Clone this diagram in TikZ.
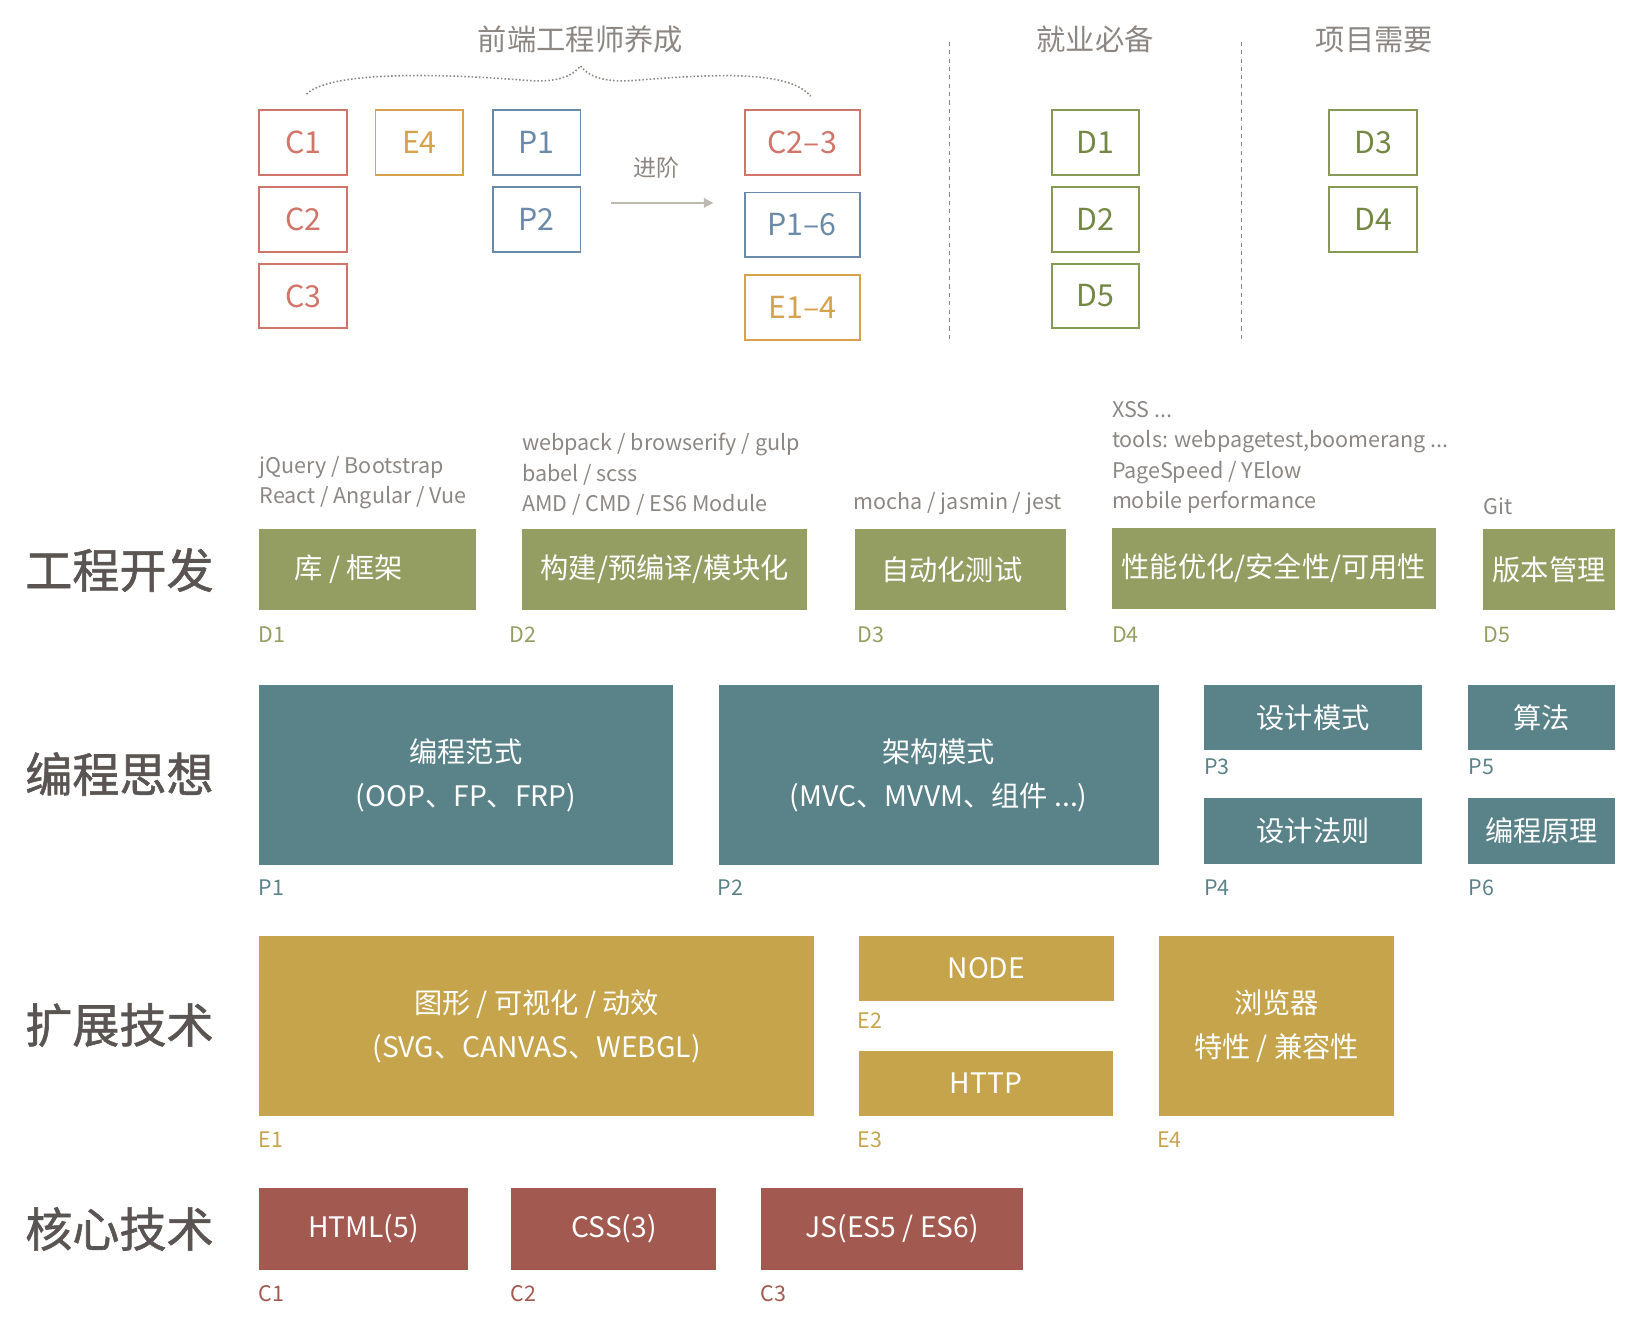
\documentclass[tikz,border=0pt]{standalone}
\usepackage{fontspec}
\setmainfont{Noto Sans CJK SC}
\newfontfamily\ttlfont[BoldFont={Noto Sans CJK SC},BoldFeatures={FakeBold=1.2}]{Noto Sans CJK SC}
\usetikzlibrary{arrows.meta}
\definecolor{grn}{HTML}{959E62}
\definecolor{teal}{HTML}{5A8389}
\definecolor{gold}{HTML}{C5A44C}
\definecolor{brick}{HTML}{A2594F}
\definecolor{cred}{HTML}{D0756A}
\definecolor{eorg}{HTML}{D6A24E}
\definecolor{pblu}{HTML}{6B89A8}
\definecolor{dgrn}{HTML}{879A58}
\definecolor{dtxt}{HTML}{738844}
\definecolor{gtxt}{HTML}{8C8782}
\definecolor{ttl}{HTML}{5A5552}
\definecolor{arr}{HTML}{BDB8B0}
\begin{document}
\begin{tikzpicture}[x=1pt,y=-1pt,
  fillbox/.style={fill=#1, draw=none, text=white, inner sep=0pt, align=center,
    font=\fontsize{27}{42}\selectfont},
  outbox/.style={draw=#1, line width=1.8pt, fill=white, inner sep=0pt,
    minimum width=84pt, minimum height=62pt, font=\fontsize{29}{30}\selectfont},
  rowtitle/.style={anchor=west, inner sep=0pt, text=ttl, font=\fontsize{45}{50}\ttlfont\bfseries},
  note/.style={anchor=west, inner sep=0pt, text=gtxt, align=left,
    font=\fontsize{20.6}{29}\selectfont},
  tag/.style={anchor=west, inner sep=0pt, text=#1, font=\fontsize{20.5}{24}\selectfont},
  head/.style={inner sep=0pt, text=gtxt, font=\fontsize{28}{30}\selectfont},
  sep/.style={draw=gtxt, line width=1.4pt, dash pattern=on 4pt off 4pt},
]
\useasboundingbox (0,0) rectangle (1568,1273);

% ---------- top section ----------
\node[head] (h1) at (555,38) {前端工程师养成};
\node[head] (h2) at (1047,38) {就业必备};
\node[head] (h3) at (1314,38) {项目需要};

\coordinate (bl) at (293,90);
\coordinate (bm) at (555,63);
\coordinate (br) at (775,92);
\draw[gtxt, line width=1.5pt, dotted] (bl) .. controls (315,68) and (420,70) .. (505,77)
  .. controls (535,79) and (548,72) .. (bm)
  .. controls (562,72) and (575,79) .. (605,77)
  .. controls (690,70) and (755,68) .. (br);

\coordinate (s1a) at (908,40); \coordinate (s1b) at (908,325);
\coordinate (s2a) at (1187,40); \coordinate (s2b) at (1187,325);
\draw[sep] (s1a) -- (s1b);
\draw[sep] (s2a) -- (s2b);

\node[outbox=cred, text=cred] (tC1) at (290,136) {C1};
\node[outbox=cred, text=cred] (tC2) at (290,210) {C2};
\node[outbox=cred, text=cred] (tC3) at (290,283) {C3};
\node[outbox=eorg, text=eorg] (tE4) at (401,136) {E4};
\node[outbox=pblu, text=pblu] (tP1) at (513,136) {P1};
\node[outbox=pblu, text=pblu] (tP2) at (513,210) {P2};
\node[outbox=cred, text=cred, minimum width=110pt] (tC23) at (767,136) {C2–3};
\node[outbox=pblu, text=pblu, minimum width=110pt] (tP16) at (767,215) {P1–6};
\node[outbox=eorg, text=eorg, minimum width=110pt] (tE14) at (767,294) {E1–4};
\node[outbox=dgrn, text=dtxt, minimum width=83pt] (tD1) at (1047.5,136) {D1};
\node[outbox=dgrn, text=dtxt, minimum width=83pt] (tD2) at (1047.5,210) {D2};
\node[outbox=dgrn, text=dtxt, minimum width=83pt] (tD5) at (1047.5,283) {D5};
\node[outbox=dgrn, text=dtxt] (tD3) at (1313,136) {D3};
\node[outbox=dgrn, text=dtxt] (tD4) at (1313,210) {D4};

\node[inner sep=0pt, text=gtxt, font=\fontsize{22}{24}\selectfont] (adv) at (628,160) {进阶};
\coordinate (a1) at (584,194);
\coordinate (a2) at (682,194);
\draw[arr, line width=1.5pt, -{Triangle[length=9pt,width=9pt]}] (a1) -- (a2);

% ---------- row titles ----------
\node[rowtitle] (r1) at (24,545) {工程开发};
\node[rowtitle] (r2) at (24,740) {编程思想};
\node[rowtitle] (r3) at (24,980) {扩展技术};
\node[rowtitle] (r4) at (24,1175) {核心技术};

% ---------- row 1 ----------
\node[fillbox=grn, minimum width=207pt, minimum height=77pt] (D1) at (351.5,544.5) {库 / 框架\hspace*{36pt}};
\node[fillbox=grn, minimum width=273pt, minimum height=77pt] (D2) at (635.5,544.5) {构建/预编译/模块化};
\node[fillbox=grn, minimum width=202pt, minimum height=77pt] (D3) at (918,544.5) {自动化测试\hspace*{16pt}};
\node[fillbox=grn, minimum width=310pt, minimum height=77pt] (D4) at (1218,543.5) {性能优化/安全性/可用性};
\node[fillbox=grn, minimum width=126pt, minimum height=77pt] (D5) at (1481,544.5) {版本管理};

\node[note] (n1) at (248,461.5) {jQuery / Bootstrap\\React / Angular / Vue};
\node[note] (n2) at (499,453.5) {webpack / browserify / gulp\\babel / scss\\AMD / CMD / ES6 Module};
\node[note] (n3) at (816,481) {mocha / jasmin / jest};
\node[note] (n4) at (1063,437.5) {XSS ...\\tools: webpagetest,boomerang ...\\PageSpeed / YElow\\mobile performance};
\node[note] (n5) at (1418,484) {Git};

\node[tag=grn] (lD1) at (247,607) {D1};
\node[tag=grn] (lD2) at (487,607) {D2};
\node[tag=grn] (lD3) at (820,607) {D3};
\node[tag=grn] (lD4) at (1063,607) {D4};
\node[tag=grn] (lD5) at (1418,607) {D5};

% ---------- row 2 ----------
\node[fillbox=teal, minimum width=395pt, minimum height=172pt] (P1) at (445.5,741) {编程范式\\(OOP、FP、FRP)};
\node[fillbox=teal, minimum width=421pt, minimum height=172pt] (P2) at (897.5,741) {架构模式\\(MVC、MVVM、组件 ...)};
\node[fillbox=teal, minimum width=209pt, minimum height=62pt] (P3) at (1255.5,686) {设计模式};
\node[fillbox=teal, minimum width=209pt, minimum height=63pt] (P4) at (1255.5,794.5) {设计法则};
\node[fillbox=teal, minimum width=140pt, minimum height=62pt] (P5) at (1474,686) {算法};
\node[fillbox=teal, minimum width=140pt, minimum height=63pt] (P6) at (1474,794.5) {编程原理};

\node[tag=teal] (lP1) at (247,849) {P1};
\node[tag=teal] (lP2) at (686,849) {P2};
\node[tag=teal] (lP3) at (1151,733) {P3};
\node[tag=teal] (lP4) at (1151,849) {P4};
\node[tag=teal] (lP5) at (1404,733) {P5};
\node[tag=teal] (lP6) at (1404,849) {P6};

% ---------- row 3 ----------
\node[fillbox=gold, minimum width=530pt, minimum height=172pt] (E1) at (513,981) {图形 / 可视化 / 动效\\(SVG、CANVAS、WEBGL)};
\node[fillbox=gold, minimum width=244pt, minimum height=62pt] (E2) at (943,926) {NODE};
\node[fillbox=gold, minimum width=243pt, minimum height=62pt] (E3) at (942.5,1036) {HTTP};
\node[fillbox=gold, minimum width=225pt, minimum height=172pt] (E4) at (1220.5,981) {浏览器\\特性 / 兼容性};

\node[tag=gold] (lE1) at (247,1090) {E1};
\node[tag=gold] (lE2) at (820,976) {E2};
\node[tag=gold] (lE3) at (820,1090) {E3};
\node[tag=gold] (lE4) at (1106,1090) {E4};

% ---------- row 4 ----------
\node[fillbox=brick, minimum width=199pt, minimum height=78pt] (C1) at (347.5,1175) {HTML(5)};
\node[fillbox=brick, minimum width=196pt, minimum height=78pt] (C2) at (587,1175) {CSS(3)};
\node[fillbox=brick, minimum width=250pt, minimum height=78pt] (C3) at (853,1175) {JS(ES5 / ES6)};

\node[tag=brick] (lC1) at (247,1237) {C1};
\node[tag=brick] (lC2) at (488,1237) {C2};
\node[tag=brick] (lC3) at (727,1237) {C3};
\end{tikzpicture}
\end{document}
